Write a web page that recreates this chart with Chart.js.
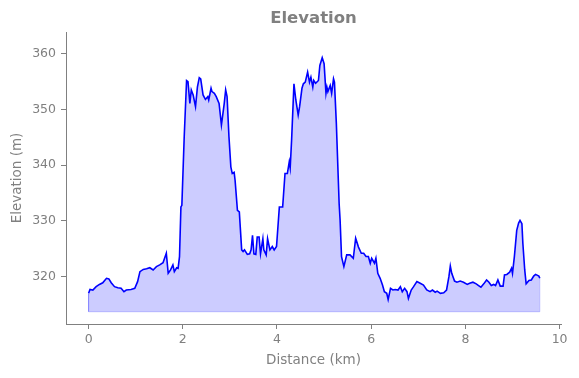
<!DOCTYPE html>
<html lang="en">
  <head>
    <meta charset="utf-8" />
    <title>Elevation</title>
    <style>
      * {
        margin: 0;
        padding: 0;
      }
      body {
        background: white;
      }
    </style>
  </head>
  <body>
    <canvas id="myChart" width="579" height="378"></canvas>

    <script src="https://cdn.jsdelivr.net/npm/chart.js@4.4.1/dist/chart.umd.min.js"></script>

    <script>
      // distance along the route (km) and elevation (m)
      const dist = [
        0.0, 0.03, 0.09, 0.16, 0.23, 0.3, 0.38, 0.43, 0.48, 0.55, 0.62, 0.69,
        0.75, 0.8, 0.9, 0.98, 1.04, 1.09, 1.16, 1.23, 1.3, 1.37, 1.44, 1.51,
        1.58, 1.65, 1.69, 1.74, 1.79, 1.82, 1.87, 1.9, 1.93, 1.96, 1.98, 2.03,
        2.08, 2.11, 2.15, 2.18, 2.22, 2.27, 2.31, 2.35, 2.38, 2.43, 2.48, 2.53,
        2.55, 2.6, 2.62, 2.67, 2.71, 2.77, 2.82, 2.88, 2.91, 2.94, 2.98, 3.02,
        3.05, 3.09, 3.11, 3.16, 3.2, 3.25, 3.28, 3.31, 3.37, 3.42, 3.45, 3.48,
        3.51, 3.55, 3.58, 3.62, 3.65, 3.7, 3.72, 3.77, 3.8, 3.85, 3.9, 3.94,
        3.99, 4.05, 4.12, 4.17, 4.22, 4.26, 4.28, 4.31, 4.36, 4.4, 4.45, 4.48,
        4.53, 4.56, 4.6, 4.65, 4.69, 4.72, 4.76, 4.78, 4.82, 4.88, 4.91, 4.96,
        5.0, 5.04, 5.06, 5.08, 5.13, 5.16, 5.2, 5.22, 5.26, 5.32, 5.34, 5.37,
        5.42, 5.48, 5.55, 5.62, 5.67, 5.73, 5.79, 5.84, 5.89, 5.94, 5.98, 6.01,
        6.07, 6.1, 6.14, 6.19, 6.24, 6.28, 6.33, 6.36, 6.41, 6.46, 6.51, 6.57,
        6.62, 6.66, 6.71, 6.76, 6.79, 6.85, 6.9, 6.97, 7.04, 7.11, 7.18, 7.25,
        7.3, 7.36, 7.4, 7.47, 7.54, 7.6, 7.65, 7.68, 7.71, 7.77, 7.82, 7.89,
        7.96, 8.04, 8.09, 8.16, 8.23, 8.28, 8.33, 8.39, 8.45, 8.5, 8.55, 8.6,
        8.64, 8.69, 8.74, 8.8, 8.83, 8.88, 8.94, 8.98, 9.0, 9.04, 9.09, 9.13,
        9.16, 9.2, 9.22, 9.26, 9.29, 9.35, 9.4, 9.45, 9.49, 9.56, 9.58,
      ];
      const elev = [
        317.0, 317.7, 317.6, 318.2, 318.6, 318.9, 319.7, 319.6, 318.9, 318.2,
        318.0, 317.9, 317.3, 317.6, 317.7, 317.9, 319.1, 320.9, 321.3, 321.4,
        321.6, 321.2, 321.8, 322.1, 322.5, 324.2, 320.6, 321.2, 322.1, 320.9,
        321.6, 321.5, 323.6, 332.5, 332.8, 345.1, 355.2, 355.0, 351.1, 353.5,
        352.6, 350.5, 354.0, 355.7, 355.5, 352.6, 351.8, 352.3, 351.7, 353.8,
        353.2, 352.9, 352.3, 351.1, 347.2, 351.1, 353.5, 352.3, 345.1, 339.7,
        338.5, 338.7, 337.3, 331.9, 331.6, 324.8, 324.5, 324.8, 324.0, 324.1,
        324.8, 327.4, 324.1, 324.0, 327.1, 327.1, 324.1, 326.8, 324.8, 323.9,
        326.8, 324.8, 325.4, 324.8, 325.4, 332.5, 332.5, 338.5, 338.5, 340.6,
        339.5, 344.5, 354.6, 351.7, 349.0, 350.5, 353.8, 354.6, 354.9, 356.7,
        354.9, 355.8, 354.0, 355.2, 354.7, 355.2, 357.9, 359.3, 358.2, 352.9,
        354.0, 353.2, 354.3, 352.9, 355.5, 354.9, 347.5, 333.0, 330.1, 323.6,
        321.8, 323.9, 323.9, 323.3, 326.9, 325.3, 324.2, 324.2, 323.6, 323.6,
        322.4, 323.3, 322.4, 323.3, 320.6, 319.7, 318.5, 317.3, 317.0, 315.9,
        317.9, 317.6, 317.7, 317.6, 318.2, 317.3, 317.9, 317.3, 316.1, 317.6,
        318.2, 319.1, 318.8, 318.5, 317.6, 317.3, 317.6, 317.2, 317.4, 317.0,
        317.1, 317.6, 320.0, 321.9, 320.6, 319.2, 319.0, 319.2, 319.0, 318.6,
        318.8, 319.0, 318.7, 318.4, 318.1, 318.7, 319.4, 319.0, 318.4, 318.6,
        318.4, 319.4, 318.3, 318.3, 320.3, 320.4, 320.8, 321.5, 320.6, 323.6,
        328.3, 329.6, 330.1, 329.5, 326.0, 321.2, 318.7, 319.3, 319.4, 320.1,
        320.4, 320.1, 319.7,
      ];
      const fillBase = 313.7;
      const xTicks = [0, 2, 4, 6, 8, 10];
      const yTicks = [320, 330, 340, 350, 360];

      const gray = "#808080";
      const tickFont = { family: "DejaVu Sans", size: 12.5 };
      const labelFont = { family: "DejaVu Sans", size: 13.5 };

      const points = dist.map((d, i) => ({ x: d, y: elev[i] }));
      const last = dist.length - 1;
      // outline of the filled area (sides and floor)
      const edge = [
        { x: dist[0], y: elev[0] },
        { x: dist[0], y: fillBase },
        { x: dist[last], y: fillBase },
        { x: dist[last], y: elev[last] },
      ];

      const plotTitle = {
        id: "plotTitle",
        afterDraw(chart) {
          const { ctx, chartArea } = chart;
          ctx.save();
          ctx.fillStyle = gray;
          ctx.font = "bold 16.5px 'DejaVu Sans'";
          ctx.textAlign = "center";
          ctx.textBaseline = "middle";
          ctx.fillText("Elevation", (chartArea.left + chartArea.right) / 2, 18.5);
          ctx.restore();
        },
      };

      const config = {
        type: "line",
        data: {
          datasets: [
            {
              data: points,
              borderColor: "#0000ff",
              borderWidth: 1.6,
              backgroundColor: "rgba(0, 0, 255, 0.2)",
              fill: { value: fillBase },
              pointRadius: 0,
              tension: 0,
              order: 0,
            },
            {
              data: edge,
              borderColor: "rgba(0, 0, 255, 0.2)",
              borderWidth: 1,
              pointRadius: 0,
              fill: false,
              order: 1,
            },
          ],
        },
        options: {
          responsive: false,
          animation: false,
          layout: { padding: { top: 32, right: 18, left: 0, bottom: 0 } },
          plugins: {
            legend: { display: false },
            tooltip: { enabled: false },
          },
          scales: {
            x: {
              type: "linear",
              min: -0.48,
              max: 10.03,
              afterBuildTicks: (s) => {
                s.ticks = xTicks.map((v) => ({ value: v }));
              },
              afterFit: (s) => {
                s.height = 54;
              },
              grid: {
                drawOnChartArea: false,
                tickLength: 5,
                color: gray,
              },
              border: { color: gray },
              ticks: { color: gray, font: tickFont, padding: 3, maxRotation: 0 },
              title: {
                display: true,
                text: "Distance (km)",
                color: gray,
                font: labelFont,
                padding: { top: 0, bottom: 9 },
              },
            },
            y: {
              min: 311.5,
              max: 363.9,
              afterBuildTicks: (s) => {
                s.ticks = yTicks.map((v) => ({ value: v }));
              },
              afterFit: (s) => {
                s.width = 66;
              },
              grid: {
                drawOnChartArea: false,
                tickLength: 5,
                color: gray,
              },
              border: { color: gray },
              ticks: { color: gray, font: tickFont, padding: 5 },
              title: {
                display: true,
                text: "Elevation (m)",
                color: gray,
                font: labelFont,
                padding: { top: 9, bottom: 0 },
              },
            },
          },
        },
        plugins: [plotTitle],
      };

      const myChart = new Chart(document.getElementById("myChart"), config);
    </script>
  </body>
</html>
